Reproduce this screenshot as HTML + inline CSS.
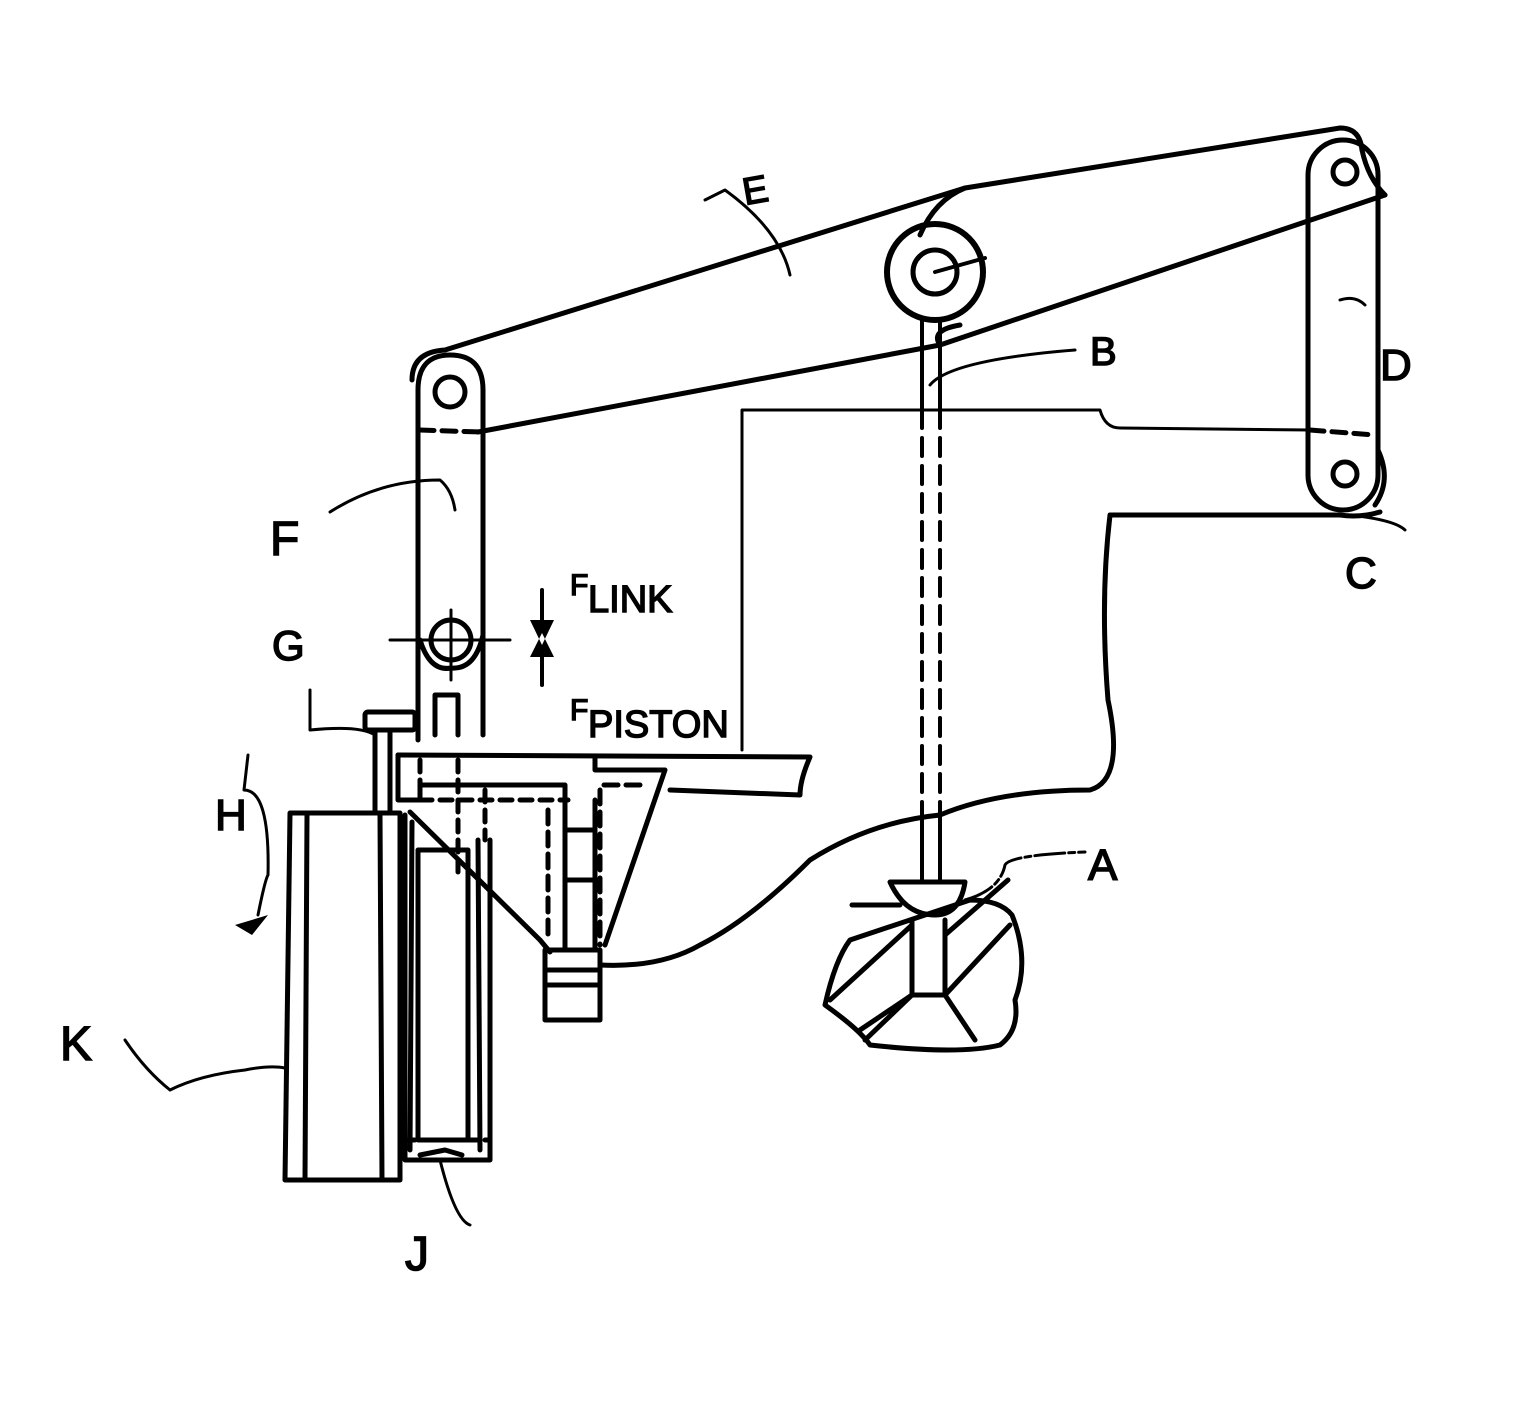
<!DOCTYPE html>
<html><head><meta charset="utf-8"><style>
html,body{margin:0;padding:0;background:#fff;}
svg{display:block;}
text{font-family:"Liberation Sans",sans-serif;fill:#000;stroke:#000;stroke-width:1.5;}
</style></head><body>
<svg width="1520" height="1410" viewBox="0 0 1520 1410" xmlns="http://www.w3.org/2000/svg">
<g fill="none" stroke="#000" stroke-width="5" stroke-linecap="round" stroke-linejoin="round">
<!-- Lever E -->
<path d="M412 380 Q412 352 445 350 L965 188 L1340 128 Q1360 128 1362 150"/>
<path d="M478 432 L940 345 L1385 195"/>
<path d="M965 188 Q935 200 920 235"/>
<path d="M940 345 Q930 330 960 325"/>
<!-- left pin / link F -->
<circle cx="450" cy="392" r="15"/>
<path d="M418 740 L418 390 Q418 355 450 355 Q483 355 483 390 L483 735"/>
<path d="M420 430 L480 432" stroke-dasharray="14 8"/>
<!-- fulcrum -->
<circle cx="935" cy="272" r="48" stroke-width="6"/>
<circle cx="935" cy="272" r="22" stroke-width="5"/>
<path d="M935 272 L985 258" stroke-width="4"/>
<!-- link D -->
<rect x="1308" y="140" width="70" height="370" rx="35"/>
<circle cx="1345" cy="172" r="12"/>
<circle cx="1345" cy="474" r="12"/>
<path d="M1362 150 Q1368 178 1385 195"/>
<path d="M1310 430 L1375 435" stroke-dasharray="14 8"/>
<path d="M1378 450 Q1392 480 1375 505"/>
<!-- rod B -->
<path d="M922 320 L922 410 M940 320 L940 410" stroke-width="4"/>
<path d="M922 410 L922 810 M940 410 L940 810" stroke-width="4" stroke-dasharray="18 10"/>
<path d="M922 810 L922 882 M940 810 L940 882" stroke-width="4"/>
<!-- frame upper -->
<path d="M742 750 L742 410 L1100 410 Q1105 428 1120 428 L1310 430" stroke-width="3"/>
<!-- frame lower wiggly -->
<path d="M1380 512 Q1360 518 1340 515 L1110 515 Q1100 600 1108 700 Q1125 780 1090 790 Q1000 790 940 815 Q870 822 810 860 Q750 920 700 945 Q660 968 600 965" stroke-width="5"/>
<!-- F pin -->
<circle cx="451" cy="640" r="20"/>
<path d="M420 640 Q430 672 451 668 Q475 670 483 635"/>
<path d="M390 640 L510 640 M451 610 L451 680" stroke-width="3"/>
<path d="M435 735 L435 695 L458 695 L458 735"/>
<!-- G cap -->
<rect x="365" y="712" width="50" height="18" rx="3"/>
<path d="M375 730 L375 810 M390 730 L390 810"/>
<!-- plate -->
<path d="M398 755 L810 757 Q800 780 800 795 L670 790"/>
<path d="M398 755 L398 800 L420 800 L420 785 L565 785 L565 800"/>
<path d="M595 758 L595 770 L665 770 L605 945"/>
<path d="M420 760 L420 790 M458 760 L458 880 M485 790 L485 840" stroke-dasharray="12 8"/>
<path d="M420 800 L568 800" stroke-dasharray="12 8"/>
<path d="M640 785 L598 785 M548 810 L548 940 M600 790 L600 945" stroke-dasharray="14 8"/>
<path d="M565 800 L565 950 M595 800 L595 950"/>
<path d="M565 830 L595 830 M565 880 L595 880"/>
<path d="M410 812 L540 940 L550 952"/>
<path d="M545 950 L545 1020 L600 1020 L600 950 Z"/>
<path d="M548 970 L597 970 M548 985 L597 985"/>
<!-- cylinder K -->
<path d="M290 813 L400 813 L400 1180 L285 1180 Z"/>
<path d="M307 815 L305 1180 M380 815 L382 1180"/>
<!-- J -->
<path d="M405 815 L405 1160 L490 1160 L490 840"/>
<path d="M412 822 L410 1150 M418 850 L418 1140 L468 1140 L468 850 Z"/>
<path d="M478 840 L480 1150"/>
<path d="M405 1140 L490 1140" stroke-dasharray="10 6"/>
<path d="M420 1155 L445 1150 L462 1155"/>
<!-- weld A -->
<path d="M890 882 L965 882 Q960 915 935 915 Q905 915 890 882 Z"/>
<path d="M852 905 L900 905 M970 900 Q1000 900 1012 915 Q1030 960 1015 1000 Q1020 1030 1000 1045 Q960 1055 870 1045 Q860 1030 825 1005 Q835 960 850 940 Z"/>
<path d="M912 920 L912 995 L945 995 L945 920"/>
<path d="M912 925 L830 1000 M945 935 L1008 880 M945 995 L1010 925 M912 995 L860 1030 M945 995 L975 1040 M912 995 L865 1040"/>
<!-- leader lines -->
<path d="M965 900 Q1000 890 1005 865 Q1010 855 1085 852" stroke-width="3" stroke-dasharray="30 4 6 4"/>
<path d="M930 385 Q950 360 1075 350" stroke-width="3"/>
<path d="M1340 300 Q1355 295 1365 305" stroke-width="3"/>
<path d="M1350 515 Q1395 520 1405 530" stroke-width="3"/>
<path d="M705 200 L725 190 Q780 230 790 275" stroke-width="3"/>
<path d="M330 512 Q380 480 440 480 Q452 490 455 510" stroke-width="3"/>
<path d="M310 690 L310 730 Q360 725 375 735" stroke-width="3"/>
<path d="M248 755 L244 790 Q270 790 268 875 Q265 880 258 915" stroke-width="3"/>
<path d="M170 1090 Q200 1075 245 1070 Q270 1065 285 1068 M170 1090 Q145 1070 125 1040" stroke-width="3"/>
<path d="M440 1160 Q455 1220 470 1225" stroke-width="3"/>
<path d="M542 590 L542 625 M542 650 L542 685" stroke-width="4"/>
</g>
<path d="M530 620 L554 620 L542 645 Z M530 657 L554 657 L542 633 Z" fill="#000"/>
<path d="M235 925 L268 915 L252 935 Z" fill="#000"/>
<g>
<text x="745" y="205" font-size="38" transform="rotate(-10 745 205)">E</text>
<text x="1090" y="365" font-size="40">B</text>
<text x="1380" y="380" font-size="44">D</text>
<text x="1345" y="588" font-size="44">C</text>
<text x="1088" y="880" font-size="44">A</text>
<text x="270" y="555" font-size="48">F</text>
<text x="272" y="660" font-size="42">G</text>
<text x="215" y="830" font-size="44">H</text>
<text x="60" y="1060" font-size="48">K</text>
<text x="405" y="1270" font-size="48">J</text>
<text x="570" y="595" font-size="30">F</text>
<text x="588" y="612" font-size="38">LINK</text>
<text x="570" y="720" font-size="30">F</text>
<text x="588" y="737" font-size="38">PISTON</text>
</g>
</svg>
</body></html>
